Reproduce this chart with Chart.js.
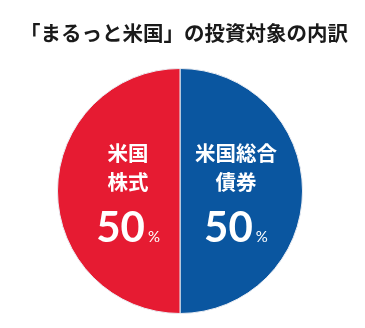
<!DOCTYPE html>
<html>
<head>
<meta charset="utf-8">
<script src="https://cdn.jsdelivr.net/npm/chart.js@4"></script>
<style>
  html, body { margin: 0; padding: 0; background: #fff; }
  #wrap { width: 365px; height: 328px; position: relative; }
</style>
</head>
<body>
<div id="wrap"><canvas id="pie"></canvas></div>
<script>
// data
const title = "「まるっと米国」の投資対象の内訳";
const categories = ["米国総合債券", "米国株式"];
const labelLines = [["米国総合", "債券"], ["米国", "株式"]];
const shares = [50, 50];
const colors = ["#0a56a0", "#e61b32"];

// title drawn by hand so the size is exact
const titleText = {
    id: "titleText",
    afterDraw(chart) {
        const ctx = chart.ctx;
        ctx.save();
        ctx.fillStyle = "#1a1a1a";
        ctx.textAlign = "center";
        ctx.textBaseline = "middle";
        ctx.font = "bold 20.5px 'Noto Sans CJK JP'";
        ctx.fillText(title, 184, 33);
        ctx.restore();
    }
};

// labels inside each slice
const sliceLabels = {
    id: "sliceLabels",
    afterDatasetsDraw(chart) {
        const ctx = chart.ctx;
        const arcs = chart.getDatasetMeta(0).data;
        arcs.forEach((arc, i) => {
            const p = arc.getProps(["x", "y", "startAngle", "endAngle", "outerRadius"], true);
            const mid = (p.startAngle + p.endAngle) / 2;
            const cx = p.x + Math.cos(mid) * p.outerRadius * 0.44 + 2;
            const cy = p.y + Math.sin(mid) * p.outerRadius * 0.44;

            ctx.save();
            ctx.fillStyle = "#fff";
            ctx.textAlign = "center";
            ctx.textBaseline = "middle";
            ctx.font = "bold 20.5px 'Noto Sans CJK JP'";
            labelLines[i].forEach((line, k) => {
                ctx.fillText(line, cx, cy - 38 + k * 29);
            });

            // big number + small %
            const num = String(shares[i]);
            ctx.font = "bold 42px Lato";
            const wNum = ctx.measureText(num).width;
            ctx.font = "15px Lato";
            const wPct = ctx.measureText("%").width;
            const left = cx - (wNum + 3 + wPct) / 2;
            ctx.textAlign = "left";
            ctx.textBaseline = "alphabetic";
            ctx.font = "bold 42px Lato";
            ctx.fillText(num, left, cy + 51);
            ctx.font = "15px Lato";
            ctx.fillText("%", left + wNum + 3, cy + 51);
            ctx.restore();
        });
    }
};

new Chart(document.getElementById("pie"), {
    type: "pie",
    data: {
        labels: categories,
        datasets: [{
            data: shares,
            backgroundColor: colors,
            borderColor: "#e9ecf2",
            borderWidth: 1
        }]
    },
    options: {
        responsive: true,
        maintainAspectRatio: false,
        animation: false,
        layout: { padding: { left: 57, right: 62, bottom: 14, top: 68 } },
        plugins: {
            legend: { display: false },
            tooltip: { enabled: false },
            title: { display: false }
        }
    },
    plugins: [sliceLabels, titleText]
});
</script>
</body>
</html>
